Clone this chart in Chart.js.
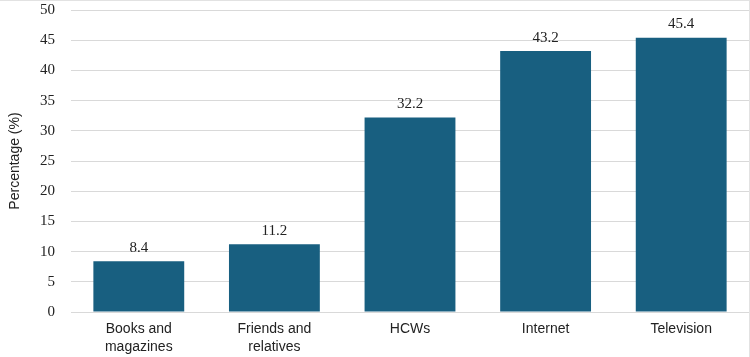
<!DOCTYPE html>
<html><head><meta charset="utf-8">
<script src="https://cdn.jsdelivr.net/npm/chart.js@4/dist/chart.umd.min.js"></script>
<style>html,body{margin:0;padding:0;background:#fff}#wrap{width:750px;height:357px;box-sizing:border-box;border-top:1px solid #e2e2e2;border-right:1px solid #e2e2e2}</style>
</head><body><div id="wrap"><canvas id="c"></canvas></div>
<script>
const categories = [["Books and","magazines"],["Friends and","relatives"],"HCWs","Internet","Television"];
const values = [8.4, 11.2, 32.2, 43.2, 45.4];
const yTicks = [0,5,10,15,20,25,30,35,40,45,50];

const labelPlugin = {
  id: 'vals',
  afterDatasetsDraw(chart) {
    const ctx = chart.ctx;
    const meta = chart.getDatasetMeta(0);
    ctx.save();
    ctx.font = '15px "Liberation Serif", "DejaVu Serif", serif';
    ctx.fillStyle = '#222';
    ctx.textAlign = 'center';
    ctx.textBaseline = 'bottom';
    meta.data.forEach((bar, i) => {
      ctx.fillText(values[i].toFixed(1), bar.x, bar.y - 6);
    });
    ctx.restore();
  }
};

new Chart(document.getElementById('c'), {
  type: 'bar',
  data: { labels: categories, datasets: [{ data: values, backgroundColor: '#185f80', barPercentage: 0.67, categoryPercentage: 1.0 }] },
  options: {
    responsive: true, maintainAspectRatio: false, animation: false,
    layout: { padding: { top: 9, right: 0, left: 0, bottom: 0 } },
    plugins: { legend: { display: false }, tooltip: { enabled: false } },
    scales: {
      x: {
        grid: { display: false },
        border: { display: true, color: '#d9d9d9', width: 1 },
        afterFit(s) { s.height = 45; },
        ticks: { color: '#222', font: { family: '"Liberation Sans", Arial, sans-serif', size: 14, lineHeight: 1.3 }, maxRotation: 0, padding: 0 }
      },
      y: {
        min: 0, max: 50,
        afterBuildTicks(s) { s.ticks = yTicks.map(v => ({ value: v })); },
        afterFit(s) { s.width = 71; s.paddingTop = 0; s.paddingBottom = 0; },
        grid: { color: '#d9d9d9', drawTicks: false },
        border: { display: false },
        ticks: { color: '#222', font: { family: '"Liberation Serif", "DejaVu Serif", serif', size: 15 }, padding: 16 },
        title: { display: true, text: 'Percentage (%)', color: '#222', font: { family: '"Liberation Sans", Arial, sans-serif', size: 14 }, padding: { top: 7, bottom: 0 } }
      }
    }
  },
  plugins: [labelPlugin]
});
</script></body></html>
